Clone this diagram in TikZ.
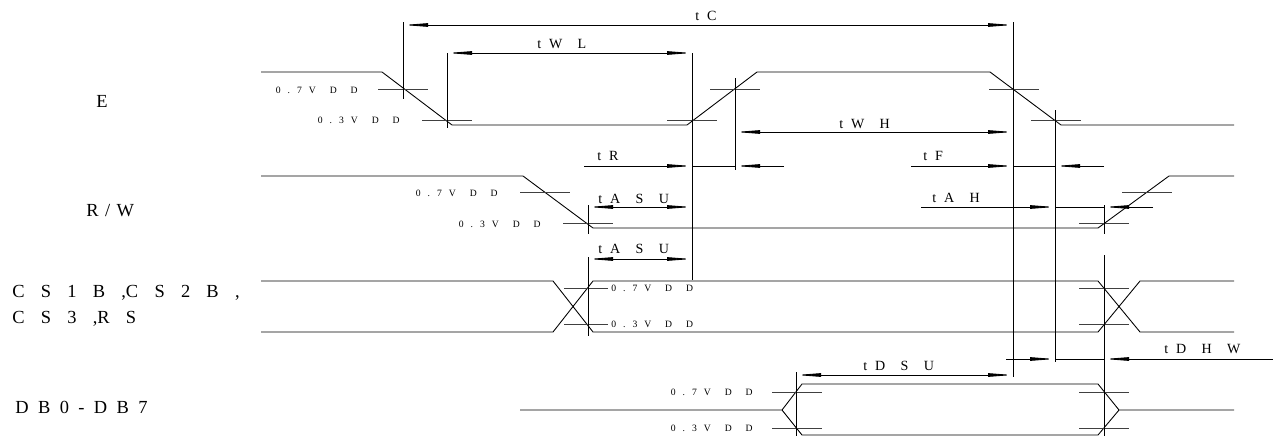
\documentclass[tikz,border=0pt]{standalone}
\usepackage{fontspec}
\setmainfont{Liberation Serif}
\usetikzlibrary{arrows.meta}

\tikzset{
	wave/.style={line width=0.5pt},
	thr/.style={line width=0.5pt, black!75},
	ext/.style={line width=0.5pt},
	dim/.style={line width=0.5pt, {Triangle[length=5mm,width=0.7mm]}-{Triangle[length=5mm,width=0.7mm]}},
	tip/.style={line width=0.5pt, -{Triangle[length=5mm,width=0.7mm]}},
	tlabel/.style={anchor=base west, inner sep=0pt, font={\fontsize{8}{9.5}\selectfont\frenchspacing\spaceskip=.55em\relax}},
	vlabel/.style={inner sep=0pt, font={\fontsize{5.5}{6.5}\selectfont\frenchspacing\spaceskip=.72em\relax}},
	sname/.style={anchor=base west, inner sep=0pt, font={\fontsize{10.5}{12}\selectfont\frenchspacing\spaceskip=#1\relax}},
	sname/.default=.88em
}

\begin{document}
\begin{tikzpicture}[x=0.02cm, y=-0.02cm]
	\useasboundingbox (0,0) rectangle (1273,436);

	\path (96,107) node[sname] (nE) {E}
		(86,216) node[sname=.35em] (nRW) {R / W}
		(12,297) node[sname] (nCS1) {C S 1 B ,C S 2 B ,}
		(12,323) node[sname] (nCS2) {C S 3 ,R S}
		(15,413) node[sname=.51em] (nDB) {D B 0 - D B 7};

	\draw[wave] (261,72) -- (382,72) -- (452,125) -- (687,125) -- (757,72) -- (990,72) -- (1061,125) -- (1234,125);
	\draw[wave] (261,176) -- (523,176) -- (593,228) -- (1098,228) -- (1169,176) -- (1234,176);
	\draw[wave] (261,281) -- (553,281) -- (593,332) -- (1098,332) -- (1140,281) -- (1234,281)
		(261,332) -- (553,332) -- (593,281) -- (1098,281) -- (1140,332) -- (1234,332);
	\draw[wave] (520,410) -- (782,410) -- (802,384) -- (1098,384) -- (1119,410) -- (1234,410)
		(782,410) -- (802,435) -- (1098,435) -- (1119,410);

	\draw[thr] (378,89) -- +(50,0) (422,120) -- +(50,0) (667,120) -- +(50,0) (710,89) -- +(50,0)
		(989,89) -- +(50,0) (1031,120) -- +(50,0)
		(520,192) -- +(50,0) (563,223) -- +(50,0) (1079,223) -- +(50,0) (1122,192) -- +(50,0)
		(564,288) -- (608,288) (564,324) -- (608,324) (1079,288) -- +(50,0) (1079,324) -- +(50,0)
		(772,392) -- +(50,0) (772,428) -- +(50,0) (1079,392) -- +(50,0) (1079,428) -- +(50,0);

	\path (358,93) node[vlabel, anchor=base east] (ve7) {0 . 7 V~~D~~D}
		(400,123) node[vlabel, anchor=base east] (ve3) {0 . 3 V~~D~~D}
		(498,196) node[vlabel, anchor=base east] (vr7) {0 . 7 V~~D~~D}
		(541,227) node[vlabel, anchor=base east] (vr3) {0 . 3 V~~D~~D}
		(611,291) node[vlabel, anchor=base west] (vc7) {0 . 7 V~~D~~D}
		(611,327) node[vlabel, anchor=base west] (vc3) {0 . 3 V~~D~~D}
		(753,395) node[vlabel, anchor=base east] (vd7) {0 . 7 V~~D~~D}
		(753,431) node[vlabel, anchor=base east] (vd3) {0 . 3 V~~D~~D};

	\draw[ext] (403,22) -- (403,99) (447,53) -- (447,128) (692,53) -- (692,280) (735,78) -- (735,170)
		(1013,22) -- (1013,377) (1055,110) -- (1055,362)
		(588,205) -- (588,234) (588,257) -- (588,336)
		(1104,205) -- (1104,234) (1104,255) -- (1104,436) (796,372) -- (796,436);

	\path (403,25) coordinate (tc1) (1013,25) coordinate (tc2)
		(447,53) coordinate (twl1) (692,53) coordinate (twl2)
		(735,132) coordinate (twh1) (1013,132) coordinate (twh2)
		(588,207) coordinate (tas1) (692,207) coordinate (tas2)
		(588,259) coordinate (tbs1) (692,259) coordinate (tbs2)
		(796,375) coordinate (tds1) (1013,375) coordinate (tds2)
		(584,166) coordinate (tr0) (692,166) coordinate (tr1) (735,166) coordinate (tr2) (784,166) coordinate (tr3)
		(911,166) coordinate (tf0) (1013,166) coordinate (tf1) (1055,166) coordinate (tf2) (1104,166) coordinate (tf3)
		(921,207) coordinate (tah0) (1055,207) coordinate (tah1) (1104,207) coordinate (tah2) (1153,207) coordinate (tah3)
		(1006,359) coordinate (tdh0) (1055,359) coordinate (tdh1) (1104,359) coordinate (tdh2) (1273,359) coordinate (tdh3);

	\draw[dim] (tc1) -- (tc2);
	\draw[dim] (twl1) -- (twl2);
	\draw[dim] (twh1) -- (twh2);
	\draw[dim] (tas1) -- (tas2);
	\draw[dim] (tbs1) -- (tbs2);
	\draw[dim] (tds1) -- (tds2);
	\draw[tip] (tr0) -- (tr1);
	\draw[ext] (tr1) -- (tr2);
	\draw[tip] (tr3) -- (tr2);
	\draw[tip] (tf0) -- (tf1);
	\draw[ext] (tf1) -- (tf2);
	\draw[tip] (tf3) -- (tf2);
	\draw[tip] (tah0) -- (tah1);
	\draw[ext] (tah1) -- (tah2);
	\draw[tip] (tah3) -- (tah2);
	\draw[tip] (tdh0) -- (tdh1);
	\draw[ext] (tdh1) -- (tdh2);
	\draw[tip] (tdh3) -- (tdh2);

	\path (695,20) node[tlabel] (ltc) {t C}
		(537,48) node[tlabel] (ltwl) {t W~~L}
		(839,128) node[tlabel] (ltwh) {t W~~H}
		(597,160) node[tlabel] (ltr) {t R}
		(923,160) node[tlabel] (ltf) {t F}
		(598,203) node[tlabel] (ltas) {t A~~S~~U}
		(932,202) node[tlabel] (ltah) {t A~~H}
		(598,253) node[tlabel] (ltbs) {t A~~S~~U}
		(863,370) node[tlabel] (ltds) {t D~~S~~U}
		(1164,353) node[tlabel] (ltdh) {t D~~H~~W};
\end{tikzpicture}
\end{document}
